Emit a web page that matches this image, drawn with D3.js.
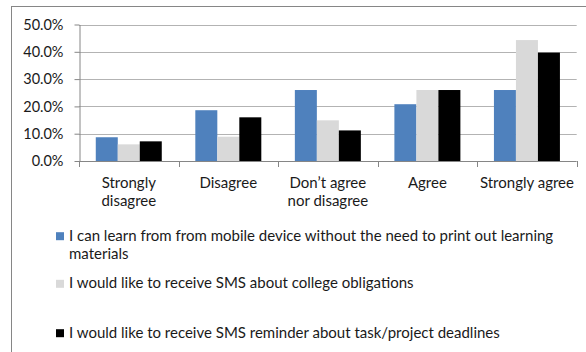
<!DOCTYPE html>
<html><head><meta charset="utf-8">
<script src="https://cdn.jsdelivr.net/npm/d3@7"></script>
<style>
html,body{margin:0;padding:0;background:#fff;}
svg{display:block;font-family:Lato,"Open Sans",sans-serif;}
</style></head>
<body><svg id="c" width="586" height="352"></svg>
<script>
const categories = [["Strongly","disagree"],["Disagree"],["Don\u2019t agree","nor disagree"],["Agree"],["Strongly agree"]];
const seriesNames = [
  ["I can learn from from mobile device without the need to print out learning","materials"],
  ["I would like to receive SMS about college obligations"],
  ["I would like to receive SMS reminder about task/project deadlines"]
];
const seriesColors = ["#4f81bd","#d9d9d9","#000000"];
const learnMobile = [0.087, 0.186, 0.260, 0.208, 0.260];
const smsObligations = [0.061, 0.089, 0.149, 0.260, 0.443];
const smsDeadlines = [0.072, 0.160, 0.112, 0.260, 0.397];
const yTicks = [0, 0.1, 0.2, 0.3, 0.4, 0.5];

(function(){
const series = [learnMobile, smsObligations, smsDeadlines];
const svg = d3.select("#c");
const pLeft = 79, pRight = 576.7, pTop = 24.5, pBottom = 161;

// frame
svg.append("rect").attr("x",11.5).attr("y",6.5).attr("width",700).attr("height",500)
  .attr("fill","none").attr("stroke","#868686").attr("stroke-width",1);

const catKeys = categories.map(c => c.join(" "));
const x0 = d3.scaleBand().domain(catKeys).range([pLeft, pRight]).paddingInner(0.337).paddingOuter(0.1685);
const x1 = d3.scaleBand().domain(d3.range(series.length)).range([0, x0.bandwidth()]).padding(0);
const y = d3.scaleLinear().domain([0, 0.5]).range([pBottom, pTop]);

// gridlines
svg.append("g").selectAll("line").data(yTicks.slice(1)).join("line")
  .attr("x1", pLeft).attr("x2", pRight)
  .attr("y1", d => Math.round(y(d)) + 0.5).attr("y2", d => Math.round(y(d)) + 0.5)
  .attr("stroke", "#b3b3b3").attr("stroke-width", 1);

// bars
const g = svg.append("g");
categories.forEach((c, i) => {
  series.forEach((s, j) => {
    g.append("rect")
      .attr("x", x0(catKeys[i]) + x1(j))
      .attr("y", y(s[i]))
      .attr("width", x1.bandwidth())
      .attr("height", y(0) - y(s[i]))
      .attr("fill", seriesColors[j]);
  });
});

// y axis
const yAxis = svg.append("g").attr("transform", `translate(${Math.round(pLeft)+0.5},0)`)
  .call(d3.axisLeft(y).tickValues(yTicks).tickFormat(d3.format(".1%")).tickSize(5).tickSizeOuter(0).tickPadding(11));
yAxis.select(".domain").attr("stroke", "#868686");
yAxis.selectAll(".tick line").attr("stroke", "#868686");
yAxis.selectAll(".tick text").attr("font-size", 14.5).attr("fill", "#1a1a1a").attr("font-family","Lato");

// x axis line
svg.append("line").attr("x1", pLeft).attr("x2", pRight)
  .attr("y1", Math.round(pBottom)+0.5).attr("y2", Math.round(pBottom)+0.5).attr("stroke", "#868686");
// boundary ticks
const bounds = d3.range(categories.length + 1).map(i => pLeft + i * x0.step());
svg.append("g").selectAll("line").data(bounds).join("line")
  .attr("x1", d => Math.round(d) + 0.5).attr("x2", d => Math.round(d) + 0.5)
  .attr("y1", pBottom).attr("y2", pBottom + 6).attr("stroke", "#868686");

// category labels
const cl = svg.append("g").attr("font-size", 15).attr("fill", "#1a1a1a").attr("text-anchor", "middle");
categories.forEach((c, i) => {
  const cx = x0(catKeys[i]) + x0.bandwidth() / 2;
  c.forEach((line, k) => {
    cl.append("text").attr("x", cx).attr("y", 187.5 + k * 18.5).text(line);
  });
});

// legend
const legendBase = [240.7, 288.3, 337.7];
const lg = svg.append("g").attr("font-size", 15).attr("fill", "#1a1a1a");
seriesNames.forEach((names, j) => {
  lg.append("rect").attr("x", 56).attr("y", legendBase[j] - 8.5).attr("width", 8).attr("height", 8)
    .attr("fill", seriesColors[j]);
  names.forEach((line, k) => {
    lg.append("text").attr("x", 69).attr("y", legendBase[j] + k * 18.6).text(line);
  });
});
})();
</script></body></html>
